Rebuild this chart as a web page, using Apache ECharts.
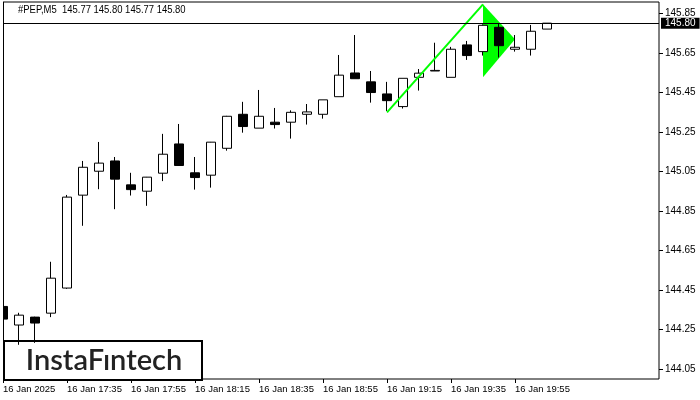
<!DOCTYPE html>
<html>
<head>
<meta charset="utf-8">
<script src="https://cdn.jsdelivr.net/npm/echarts@6/dist/echarts.min.js"></script>
<style>
  html, body { margin: 0; padding: 0; background: #fff; }
  #chart { width: 700px; height: 400px; }
</style>
</head>
<body>
<div id="chart"></div>
<script>
// 5-minute bars, 16 Jan 2025
const times = ['17:15','17:20','17:25','17:30','17:35','17:40','17:45','17:50','17:55',
  '18:00','18:05','18:10','18:15','18:20','18:25','18:30','18:35','18:40','18:45','18:50','18:55',
  '19:00','19:05','19:10','19:15','19:20','19:25','19:30','19:35','19:40','19:45','19:50','19:55',
  '20:00','20:05'];
const opens  = [144.367,144.273,144.313,144.333,144.460,144.930,145.051,145.103,144.982,144.950,
  145.041,145.189,145.043,145.031,145.167,145.339,145.269,145.299,145.299,145.339,145.339,145.428,
  145.548,145.503,145.442,145.378,145.526,145.558,145.526,145.690,145.656,145.779,145.668,145.668,145.77];
const closes = [144.303,144.323,144.283,144.510,144.920,145.071,145.092,145.011,144.958,145.021,
  145.137,145.080,145.019,145.198,145.329,145.277,145.329,145.287,145.349,145.351,145.412,145.537,
  145.519,145.449,145.408,145.521,145.547,145.561,145.668,145.636,145.789,145.686,145.678,145.759,145.80];
const highs  = [144.451,144.335,144.315,144.593,144.931,145.103,145.199,145.123,145.043,145.022,
  145.240,145.290,145.123,145.199,145.331,145.402,145.462,145.371,145.359,145.391,145.412,145.639,
  145.740,145.558,145.503,145.521,145.568,145.701,145.680,145.710,145.794,145.799,145.740,145.791,145.80];
const lows   = [144.249,144.173,144.183,144.313,144.456,144.775,144.960,144.859,144.928,144.876,
  145.001,145.078,144.958,144.968,145.155,145.246,145.269,145.267,145.216,145.287,145.317,145.428,
  145.519,145.398,145.356,145.368,145.459,145.558,145.526,145.614,145.636,145.626,145.656,145.636,145.77];

const emptySlots = 7;               // free space right of the last bar
const priceTicks = [144.05,144.25,144.45,144.65,144.85,145.05,145.25,145.45,145.65,145.85];
const lastPrice = 145.80;

// bullish pennant: pole and flag
const poleX = [24, 30];
const poleY = [145.349, 145.895];
const flagX = [30, 30, 32];
const flagY = [145.895, 145.526, 145.719];

const categories = times.concat(new Array(emptySlots).fill(''));
const candles = times.map((t, i) => [opens[i], closes[i], lows[i], highs[i]]);

const FONT = "'Liberation Sans', sans-serif";
const chart = echarts.init(document.getElementById('chart'));

chart.setOption({
  animation: false,
  backgroundColor: '#fff',
  grid: {
    left: 3, right: 41, top: 2, bottom: 21,
    show: true, borderColor: '#000', borderWidth: 1, backgroundColor: '#fff'
  },
  xAxis: {
    type: 'category',
    data: categories,
    boundaryGap: false,
    axisLine: { show: false },
    axisTick: {
      show: true, length: 4, lineStyle: { color: '#000' },
      interval: (i, v) => i % 4 === 0 && v !== ''
    },
    axisLabel: {
      interval: (i, v) => i % 4 === 0 && v !== '',
      align: 'left', margin: 5,
      color: '#000', fontFamily: FONT, fontSize: 9.5,
      formatter: (v, i) => i === 0 ? '16 Jan 2025' : '16 Jan ' + v
    },
    splitLine: { show: false }
  },
  yAxis: {
    type: 'value',
    position: 'right',
    min: 144.0,
    max: 145.907,
    axisLine: { show: false },
    axisTick: { show: true, length: 4, lineStyle: { color: '#000' }, customValues: priceTicks },
    axisLabel: {
      customValues: priceTicks, margin: 6,
      color: '#000', fontFamily: FONT, fontSize: 10,
      formatter: v => v.toFixed(2)
    },
    splitLine: { show: false }
  },
  series: [
    {
      type: 'candlestick',
      data: candles,
      barWidth: 10,
      clip: true,
      itemStyle: {
        color: '#fff', color0: '#000',
        borderColor: '#000', borderColor0: '#000', borderWidth: 1
      },
      markLine: {
        silent: true,
        symbol: ['none', 'none'],
        lineStyle: { color: '#000', width: 1, type: 'solid' },
        label: {
          position: 'end', distance: 2,
          color: '#fff', backgroundColor: '#000',
          fontFamily: FONT, fontSize: 10, padding: [1, 4, 0, 4],
          formatter: p => p.value.toFixed(2)
        },
        data: [{ yAxis: lastPrice }]
      },
      z: 3
    },
    {
      type: 'line',
      data: poleX.map((x, i) => [x, poleY[i]]),
      symbol: 'none',
      lineStyle: { color: '#00ff00', width: 2 },
      z: 4
    },
    {
      type: 'custom',
      data: [[flagX[0], flagY[0]]],
      renderItem: (params, api) => {
        const pts = flagX.map((x, i) => api.coord([x, flagY[i]]));
        return { type: 'polygon', shape: { points: pts }, style: { fill: '#00ff00' } };
      },
      z: 2
    }
  ],
  graphic: [
    // the bar cut by the left edge of the window
    { type: 'rect', left: 0, top: 0, z: 15,
      shape: { width: 3, height: 400 }, style: { fill: '#fff' } },
    { type: 'line', z: 16,
      shape: { x1: 3.5, y1: 2, x2: 3.5, y2: 379 }, style: { stroke: '#000', lineWidth: 1 } },
    {
      type: 'text', x: 18, y: 4, scaleX: 0.86, z: 10,
      style: { text: '#PEP,M5  145.77 145.80 145.77 145.80', font: '11px ' + FONT, fill: '#000' }
    },
    {
      type: 'group', left: 3, top: 340, z: 20,
      children: [
        { type: 'rect', shape: { x: 0, y: 0, width: 198, height: 39 },
          style: { fill: '#fff', stroke: '#000', lineWidth: 2 } },
        { type: 'text', x: 100, y: 20,
          style: { text: 'InstaFıntech', font: '600 29px Lato, Inter, sans-serif', fill: '#222',
                   align: 'center', verticalAlign: 'middle' } }
      ]
    }
  ]
});
</script>
</body>
</html>
